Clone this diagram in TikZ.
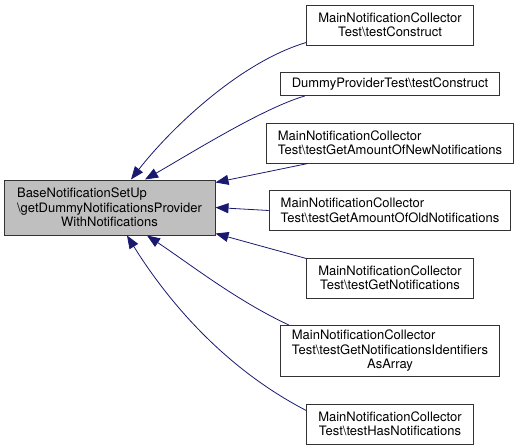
\documentclass[tikz,border=0pt]{standalone}
\usepackage{fontspec}
\setmainfont{TeX Gyre Heros}
\usepackage{tikz}
\usetikzlibrary{arrows.meta,positioning}
\definecolor{edgeblue}{HTML}{191970}
\definecolor{targetgray}{HTML}{BFBFBF}

\begin{document}
\begin{tikzpicture}[
  x=1pt, y=-1pt,
  node distance=26.5pt,
  target/.style={draw=black!80, line width=1pt, fill=targetgray, minimum width=211pt, minimum height=55pt, inner xsep=11pt, inner ysep=3pt, align=left, font=\fontsize{13}{14.5}\selectfont},
  caller/.style={draw=black!80, line width=1pt, fill=white, minimum height=40pt, inner xsep=11.5pt, inner ysep=3pt, align=left, font=\fontsize{13}{14.5}\selectfont},
  call/.style={-{Triangle[length=13pt,width=10pt]}, line width=0.8pt, edgeblue},
]
  \useasboundingbox (0,0) rectangle (524,447);

  \node[target] (setup) at (109.5,207.5) {BaseNotificationSetUp\\\textbackslash getDummyNotificationsProvider\\\hfill WithNotifications\hfill\null};

  \node[caller] (construct) at (390,25)               {MainNotificationCollector\\\hfill Test\textbackslash testConstruct\hfill\null};
  \node[caller, minimum height=23pt, below=of construct] (dummy) {DummyProviderTest\textbackslash testConstruct};
  \node[caller, below=of dummy]                       (amountnew) {MainNotificationCollector\\\hfill Test\textbackslash testGetAmountOfNewNotifications\hfill\null};
  \node[caller, below=of amountnew]                   (amountold) {MainNotificationCollector\\\hfill Test\textbackslash testGetAmountOfOldNotifications\hfill\null};
  \node[caller, below=of amountold]                   (getnotif)  {MainNotificationCollector\\\hfill Test\textbackslash testGetNotifications\hfill\null};
  \node[caller, minimum height=51pt, below=of getnotif] (asarray) {MainNotificationCollector\\Test\textbackslash testGetNotificationsIdentifiers\\\hfill AsArray\hfill\null};
  \node[caller, below=of asarray]                     (hasnotif)  {MainNotificationCollector\\\hfill Test\textbackslash testHasNotifications\hfill\null};

  % calls into setup
  \draw[call] ([yshift=3pt]construct.south west) .. controls (237,63) and (167,133) .. ([xshift=21.5pt]setup.north);
  \draw[call] ([xshift=25pt]dummy.south west) .. controls (263,108) and (188,155) .. ([xshift=35.5pt]setup.north);
  \draw[call] ([xshift=42pt]amountnew.south west) -- ([yshift=-3pt]setup.north east);
  \draw[call] (amountold.west) -- (setup.east);
  \draw[call] ([yshift=-1pt]getnotif.north west) -- ([yshift=2pt]setup.south east);
  \draw[call] ([xshift=9pt]asarray.north west) .. controls (237,301) and (188.5,263) .. ([xshift=37.5pt]setup.south);
  \draw[call] ([yshift=-7pt]hasnotif.north west) .. controls (226,369) and (169,303) .. ([xshift=17.5pt]setup.south);
\end{tikzpicture}
\end{document}
